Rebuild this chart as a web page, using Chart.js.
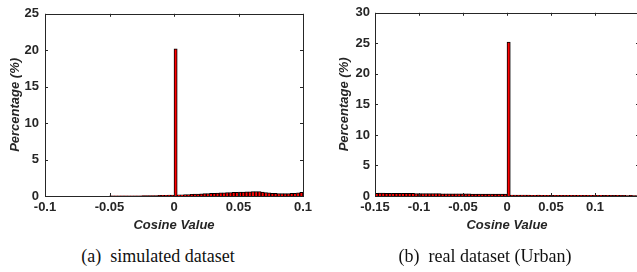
<!DOCTYPE html>
<html>
<head>
<meta charset="utf-8">
<script src="https://cdn.jsdelivr.net/npm/chart.js@4.4.1/dist/chart.umd.min.js"></script>
<style>
  html, body { margin: 0; padding: 0; background: #fff; overflow: hidden; width: 637px; height: 272px; }
  canvas { position: absolute; top: 0; }
  #c1 { left: 0; }
  #c2 { left: 317px; }
  .cap { position: absolute; top: 246px; font-family: "Liberation Serif", "Times New Roman", serif; font-size: 18px; white-space: pre; transform: translateX(-50%); color: #111; }
</style>
</head>
<body>
<canvas id="c1" width="320" height="236"></canvas>
<canvas id="c2" width="330" height="236"></canvas>
<div class="cap" style="left:158px">(a)  simulated dataset</div>
<div class="cap" style="left:485px">(b)  real dataset (Urban)</div>
<script>
// histogramme (a): bacs de 0.0025 de -0.1 a 0.1
const debutA = -0.1;
const pasA = 0.0025;
const valeursA = [
    0, 0, 0, 0, 0, 0, 0, 0, 0, 0, 0, 0, 0, 0, 0, 0, 0, 0, 0, 0,
    0.02, 0.02, 0.02, 0.03, 0.03, 0.03, 0.03, 0.04, 0.04, 0.04,
    0.05, 0.05, 0.06, 0.06, 0.07, 0.08, 0.09, 0.1, 0.11, 0.12,
    20.2, 0.15, 0.17, 0.19, 0.21, 0.23, 0.26, 0.28, 0.3, 0.32,
    0.34, 0.36, 0.38, 0.4, 0.42, 0.44, 0.46, 0.48, 0.5, 0.52,
    0.54, 0.55, 0.57, 0.58, 0.6, 0.62, 0.6, 0.55, 0.48, 0.42,
    0.38, 0.35, 0.34, 0.33, 0.33, 0.34, 0.35, 0.38, 0.42, 0.5
];
const ticksXA = [-0.1, -0.05, 0, 0.05, 0.1];
const ticksYA = [0, 5, 10, 15, 20, 25];

// histogramme (b): bacs de 0.00375 de -0.15 a 0.15
const debutB = -0.15;
const finB = 0.15;
const pasB = 0.00375;
const valeursB = [
    0.43, 0.46, 0.47, 0.45, 0.44, 0.45, 0.44, 0.43, 0.43, 0.42,
    0.43, 0.42, 0.41, 0.41, 0.4, 0.41, 0.39, 0.39, 0.38, 0.38,
    0.37, 0.37, 0.36, 0.36, 0.35, 0.35, 0.34, 0.35, 0.34, 0.33,
    0.33, 0.32, 0.33, 0.32, 0.31, 0.31, 0.3, 0.31, 0.3, 0.32,
    25.2, 0.16, 0.15, 0.14, 0.15, 0.14, 0.14, 0.13, 0.13, 0.14,
    0.13, 0.12, 0.13, 0.12, 0.12, 0.13, 0.12, 0.11, 0.12, 0.11,
    0.11, 0.12, 0.11, 0.1, 0.11, 0.1, 0.1, 0.11, 0.1, 0.09,
    0.1, 0.09, 0.09, 0.1, 0.09, 0.09, 0.08, 0.09, 0.08, 0.08
];
const ticksXB = [-0.15, -0.1, -0.05, 0, 0.05, 0.1];
const ticksYB = [0, 5, 10, 15, 20, 25, 30];

const couleurAxe = '#262626';
const policeAxe = { family: '"Liberation Sans", Arial, sans-serif', size: 13, weight: 'bold' };
const policeTitre = { family: '"Liberation Sans", Arial, sans-serif', size: 13, weight: 'bold', style: 'italic' };

const versPoints = (debut, pas, valeurs) => valeurs.map((v, i) => ({ x: debut + (i + 0.5) * pas, y: v }));

const formaterTick = (v) => String(parseFloat(Number(v).toFixed(4)));

// cadre complet avec graduations vers l'interieur (style matlab)
const cadre = {
    id: 'cadre',
    afterDraw(chart) {
        const { ctx, chartArea: a, scales } = chart;
        ctx.save();
        ctx.strokeStyle = couleurAxe;
        ctx.lineWidth = 1;
        ctx.strokeRect(Math.round(a.left) + 0.5, Math.round(a.top) + 0.5, Math.round(a.right - a.left), Math.round(a.bottom - a.top));
        ctx.beginPath();
        scales.x.ticks.forEach((t) => {
            const px = Math.round(scales.x.getPixelForValue(t.value)) + 0.5;
            ctx.moveTo(px, a.bottom); ctx.lineTo(px, a.bottom - 3);
            ctx.moveTo(px, a.top); ctx.lineTo(px, a.top + 3);
        });
        scales.y.ticks.forEach((t) => {
            const py = Math.round(scales.y.getPixelForValue(t.value)) + 0.5;
            ctx.moveTo(a.left, py); ctx.lineTo(a.left + 3, py);
            ctx.moveTo(a.right, py); ctx.lineTo(a.right - 3, py);
        });
        ctx.stroke();
        ctx.restore();
    }
};

const creerHisto = (id, points, ticksX, maxX, ticksY, opts) => {
    const ctx = document.getElementById(id).getContext('2d');
    return new Chart(ctx, {
        type: 'bar',
        data: {
            datasets: [{
                data: points,
                backgroundColor: '#ff0000',
                borderColor: '#000000',
                borderWidth: 1,
                borderSkipped: 'start',
                barPercentage: 1,
                categoryPercentage: 1
            }]
        },
        options: {
            responsive: false,
            animation: false,
            devicePixelRatio: 1,
            layout: { padding: { top: 10, right: opts.droite, left: 0, bottom: 0 } },
            plugins: { legend: { display: false }, tooltip: { enabled: false } },
            scales: {
                x: {
                    type: 'linear',
                    offset: false,
                    min: ticksX[0],
                    max: maxX,
                    afterBuildTicks: (s) => { s.ticks = ticksX.map((v) => ({ value: v })); },
                    afterFit: (s) => { s.height = opts.hauteurX; s.paddingRight = 0; },
                    grid: { display: false, drawTicks: false },
                    border: { display: false },
                    ticks: { color: couleurAxe, font: policeAxe, padding: 4, maxRotation: 0, autoSkip: false, callback: formaterTick },
                    title: { display: true, text: 'Cosine Value', color: couleurAxe, font: policeTitre, padding: { top: 0, bottom: 3 } }
                },
                y: {
                    min: ticksY[0],
                    max: ticksY[ticksY.length - 1],
                    afterBuildTicks: (s) => { s.ticks = ticksY.map((v) => ({ value: v })); },
                    afterFit: (s) => { s.width = opts.largeurY; },
                    grid: { display: false, drawTicks: false },
                    border: { display: false },
                    ticks: { color: couleurAxe, font: policeAxe, padding: opts.padY, callback: formaterTick },
                    title: { display: true, text: 'Percentage (%)', color: couleurAxe, font: policeTitre, padding: { top: opts.titreY, bottom: 0 } }
                }
            }
        },
        plugins: [cadre]
    });
};

creerHisto('c1', versPoints(debutA, pasA, valeursA), ticksXA, ticksXA[ticksXA.length - 1], ticksYA,
    { droite: 17, hauteurX: 40, largeurY: 45, padY: 6, titreY: 8 });
creerHisto('c2', versPoints(debutB, pasB, valeursB), ticksXB, finB, ticksYB,
    { droite: 8, hauteurX: 40, largeurY: 58, padY: 5, titreY: 20 });
</script>
</body>
</html>
